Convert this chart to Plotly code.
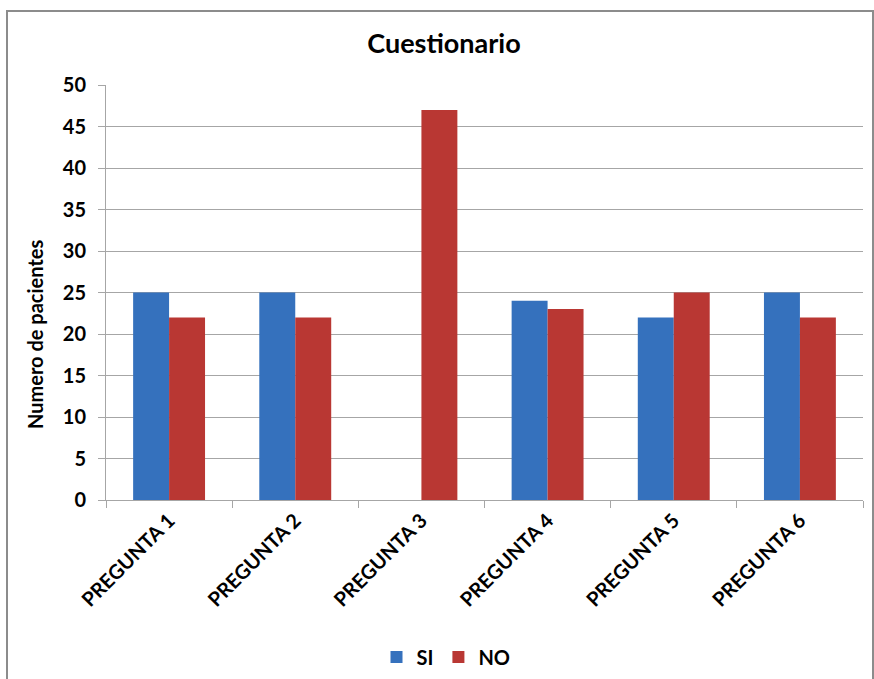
import plotly.graph_objects as go

# Survey results per question
preguntas = ["PREGUNTA 1", "PREGUNTA 2", "PREGUNTA 3", "PREGUNTA 4", "PREGUNTA 5", "PREGUNTA 6"]
si_values = [25, 25, 0, 24, 22, 25]
no_values = [22, 22, 47, 23, 25, 22]
y_ticks = [0, 5, 10, 15, 20, 25, 30, 35, 40, 45, 50]

FONT = "Lato"
GRID = "#a6a6a6"

fig = go.Figure()
fig.add_trace(go.Bar(
    name="SI", x=preguntas, y=si_values,
    marker=dict(color="#3571bd", line=dict(width=0)),
))
fig.add_trace(go.Bar(
    name="NO", x=preguntas, y=no_values,
    marker=dict(color="#b93733", line=dict(width=0)),
))

W, H = 874, 679
L, R, T, B = 106, 11, 85, 179
pw, ph = W - L - R, H - T - B

def px_x(px):
    return (px - L) / pw

def px_y(py):
    return (H - B - py) / ph

fig.update_layout(
    width=W, height=H,
    margin=dict(l=L, r=R, t=T, b=B, autoexpand=False),
    paper_bgcolor="white", plot_bgcolor="white",
    barmode="group", bargap=0.43, bargroupgap=0,
    font=dict(family=FONT, color="#000000"),
    title=dict(
        text="Cuestionario", x=444 / W, xanchor="center",
        y=1 - 44 / H, yanchor="middle",
        font=dict(family=FONT, size=27, weight="bold", color="#000000"),
    ),
    legend=dict(
        orientation="h", x=px_x(446), xanchor="center",
        y=px_y(657), yanchor="middle",
        font=dict(family=FONT, size=20, weight="bold"),
        itemwidth=30, traceorder="normal",
    ),
    xaxis=dict(
        automargin=False,
        showline=True, linecolor=GRID, linewidth=1,
        ticks="outside", tickson="boundaries", ticklen=7, tickcolor=GRID,
        tickangle=-45,
        tickfont=dict(family=FONT, size=20, weight="bold"),
        showgrid=False,
    ),
    yaxis=dict(
        automargin=False,
        range=[0, 50], tickvals=y_ticks,
        showline=True, linecolor=GRID, linewidth=1,
        ticks="outside", ticklen=7, tickcolor=GRID,
        ticklabelstandoff=8,
        showgrid=True, gridcolor=GRID, gridwidth=1,
        zeroline=False,
        tickfont=dict(family=FONT, size=20, weight="bold"),
    ),
    annotations=[dict(
        text="Numero de pacientes", textangle=-90,
        xref="paper", yref="paper", x=px_x(35), y=px_y(335),
        xanchor="center", yanchor="middle", showarrow=False,
        font=dict(family=FONT, size=20, weight="bold", color="#000000"),
    )],
    shapes=[dict(
        type="rect", xref="paper", yref="paper",
        x0=px_x(7), x1=px_x(873), y0=px_y(690), y1=px_y(11),
        line=dict(color="#8c8c8c", width=2), fillcolor="rgba(0,0,0,0)",
        layer="below",
    )],
)

fig.write_html("out.html")
